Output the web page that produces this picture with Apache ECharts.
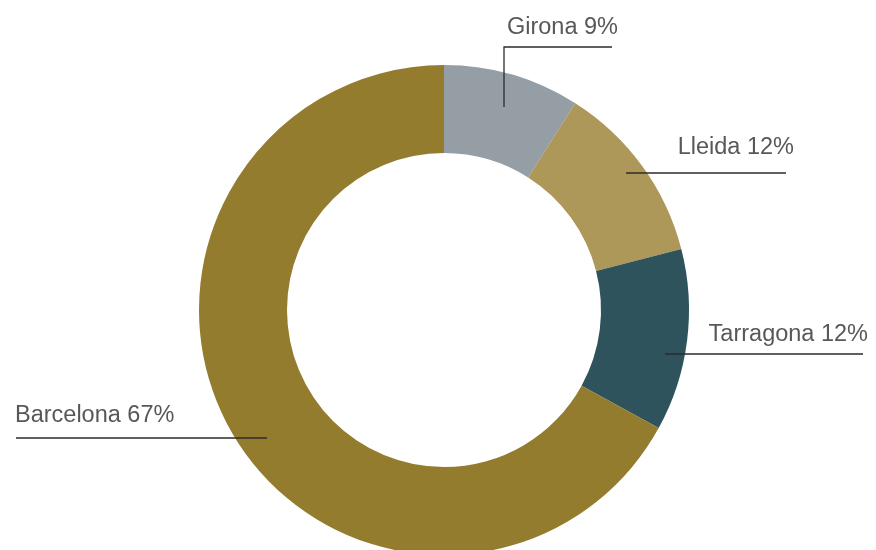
<!DOCTYPE html>
<html>
<head>
<meta charset="utf-8">
<script src="https://cdn.jsdelivr.net/npm/echarts@6/dist/echarts.min.js"></script>
<style>
  html, body { margin: 0; padding: 0; background: #fff; }
  #chart { width: 876px; height: 550px; }
</style>
</head>
<body>
<div id="chart"></div>
<script>
// Province shares (%)
const provinces = ["Girona", "Lleida", "Tarragona", "Barcelona"];
const shares = [9, 12, 12, 67];
const colors = ["#969ea5", "#ad9759", "#2e535c", "#947c2f"];

// where each label sits: leader line points and text anchor
const labelSpots = [
  { line: [[504, 107], [504, 47], [612, 47]], x: 618, y: 28, align: 'right' },
  { line: [[626, 173], [786, 173]], x: 794, y: 148, align: 'right' },
  { line: [[665, 354], [863, 354]], x: 868, y: 335, align: 'right' },
  { line: [[267, 438], [16, 438]], x: 15, y: 416, align: 'left' }
];

function initChart() {
  const chart = echarts.init(document.getElementById("chart"));
  const pieData = provinces.map((name, i) => ({ name: name, value: shares[i] }));
  const option = {
    animation: false,
    color: colors,
    series: [
      {
        // the ring itself
        type: 'pie',
        z: 2,
        center: [444, 310],
        radius: [157, 245],
        startAngle: 90,
        clockwise: true,
        itemStyle: { borderWidth: 0 },
        label: { show: false },
        labelLine: { show: false },
        data: pieData
      },
      {
        // same ring, invisible, only carries labels + leader lines on top
        type: 'pie',
        z: 5,
        silent: true,
        center: [444, 310],
        radius: [157, 245],
        startAngle: 90,
        clockwise: true,
        avoidLabelOverlap: false,
        itemStyle: { color: 'rgba(0,0,0,0)', borderWidth: 0 },
        label: {
          show: true,
          position: 'outside',
          formatter: '{b} {c}%',
          fontFamily: 'Liberation Sans, Arial, sans-serif',
          fontSize: 23.5,
          color: '#585858'
        },
        labelLine: {
          show: true,
          showAbove: true,
          lineStyle: { color: '#2b2b2b', width: 1.3 }
        },
        labelLayout: function (params) {
          const s = labelSpots[params.dataIndex];
          return {
            x: s.x,
            y: s.y,
            align: s.align,
            verticalAlign: 'middle',
            labelLinePoints: s.line
          };
        },
        data: pieData
      }
    ]
  };
  chart.setOption(option);
}

document.addEventListener("DOMContentLoaded", initChart);
</script>
</body>
</html>
